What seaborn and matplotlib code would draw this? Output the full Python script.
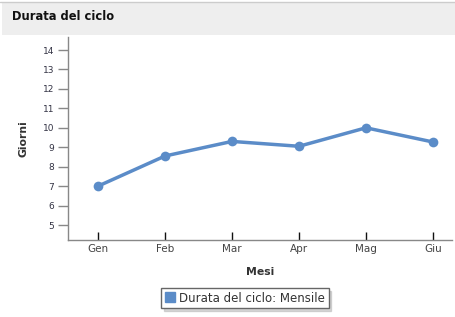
import matplotlib
matplotlib.use("Agg")
import matplotlib.pyplot as plt
import seaborn as sns
import pandas as pd
from matplotlib.patches import Rectangle
from matplotlib.lines import Line2D

months = ["Gen", "Feb", "Mar", "Apr", "Mag", "Giu"]
giorni = [7.0, 8.55, 9.3, 9.05, 10.0, 9.27]
y_ticks = [5, 6, 7, 8, 9, 10, 11, 12, 13, 14]
series_name = "Durata del ciclo: Mensile"

sns.set_style("white")
plt.rcParams['font.family'] = ['DejaVu Sans']

W, H = 455, 317
fig = plt.figure(figsize=(W / 100, H / 100), dpi=100)
fig.patch.set_facecolor("white")

# title bar
fig.patches.append(Rectangle((2 / W, (H - 35) / H), 1 - 2 / W, 33 / H,
                             transform=fig.transFigure, facecolor="#eeeeee",
                             edgecolor="none", zorder=0))
fig.add_artist(Line2D([0, 1], [(H - 1.5) / H] * 2, transform=fig.transFigure,
                      color="#cccccc", lw=1))
fig.text(12 / W, (H - 17) / H, "Durata del ciclo", fontsize=8.3, fontweight="bold",
         va="center", ha="left", color="#111111")

ax = fig.add_axes([68 / W, (H - 240) / H, (452 - 68) / W, (240 - 37) / H])
df = pd.DataFrame({"x": range(len(months)), "y": giorni})
color = "#5b8cc8"
sns.lineplot(data=df, x="x", y="y", ax=ax, color=color, lw=2.5, marker="o",
             markersize=7, markeredgewidth=0, legend=False)

ax.set_xlim(-0.448, 5.284)
ax.set_ylim(4.23, 14.67)
ax.set_xticks(range(len(months)))
ax.set_xticklabels(months)
ax.set_yticks(y_ticks)
ax.set_yticklabels([str(t) for t in y_ticks])

for s in ["top", "right"]:
    ax.spines[s].set_visible(False)
for s in ["left", "bottom"]:
    ax.spines[s].set_color("#888888")
    ax.spines[s].set_linewidth(1)

ax.tick_params(axis="y", left=True, direction="out", length=7, width=1, color="#888888",
               labelsize=6.5, labelcolor="#333344", pad=3)
ax.tick_params(axis="x", bottom=True, direction="in", length=6, width=1, color="#111111",
               labelsize=7.5, labelcolor="#444444", pad=3)

ax.set_xlabel("Mesi", fontsize=7.8, fontweight="bold", color="#333333", labelpad=9)
ax.set_ylabel("Giorni", fontsize=7.8, fontweight="bold", color="#333333", labelpad=10)

handle = Line2D([], [], marker="s", linestyle="none", color=color, markersize=6.5)
leg = fig.legend([handle], [series_name], loc="center", bbox_to_anchor=(245 / W, (H - 298) / H),
                 frameon=True, fancybox=False,
                 shadow={"ox": 2, "oy": -2, "color": "#bbbbbb", "alpha": 0.6},
                 fontsize=8.5, handlelength=0.8, handletextpad=0.4, borderpad=0.3,
                 labelcolor="#333333")
leg.get_frame().set_edgecolor("#666666")
leg.get_frame().set_linewidth(1)

fig.savefig("out.png", dpi=100)
